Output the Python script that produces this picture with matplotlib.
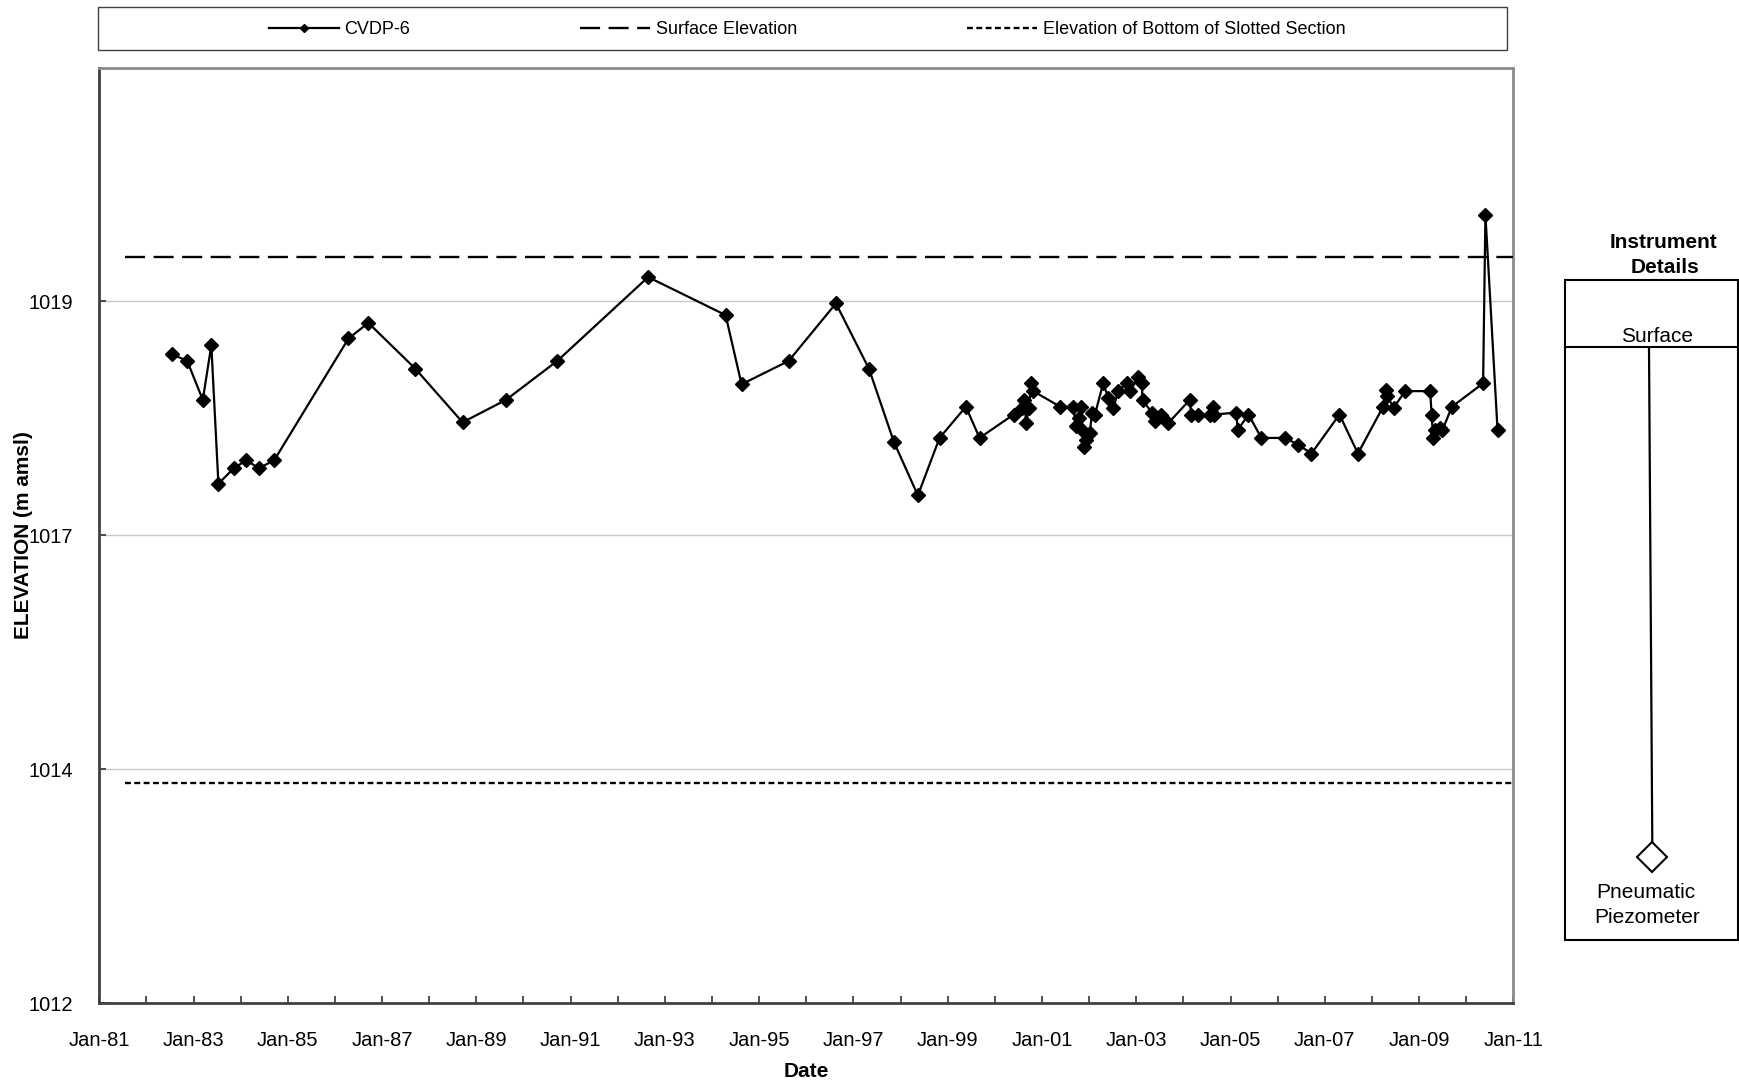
import matplotlib
matplotlib.use("Agg")
import matplotlib.pyplot as plt
import matplotlib.dates as mdates
import pandas as pd
from matplotlib.patches import Rectangle

plt.rcParams['font.family'] = ['Liberation Sans', 'DejaVu Sans']

# ---------------- data ----------------
dates = ['1982-07-16', '1982-11-13', '1983-03-14', '1983-05-19', '1983-07-13', '1983-11-10',
         '1984-02-13', '1984-05-22', '1984-09-17', '1986-04-16', '1986-09-17', '1987-09-16',
         '1988-09-16', '1989-08-18', '1990-09-20', '1992-08-24', '1994-04-16', '1994-08-18',
         '1995-08-18', '1996-08-18', '1997-05-01', '1997-11-10', '1998-05-15', '1998-10-30',
         '1999-05-22', '1999-09-05', '2000-05-26', '2000-08-01', '2000-08-15', '2000-09-01',
         '2000-09-20', '2000-10-10', '2000-10-25', '2001-05-22', '2001-09-01', '2001-09-20',
         '2001-10-15', '2001-11-01', '2001-11-10', '2001-11-25', '2001-12-10', '2002-01-05',
         '2002-01-25', '2002-02-15', '2002-04-20', '2002-05-30', '2002-07-08', '2002-08-15',
         '2002-10-20', '2002-11-15', '2003-01-18', '2003-02-12', '2003-02-20', '2003-05-01',
         '2003-05-25', '2003-07-15', '2003-09-05', '2004-02-20', '2004-03-01', '2004-04-25',
         '2004-07-25', '2004-08-20', '2004-08-28', '2005-02-15', '2005-02-25', '2005-05-20',
         '2005-08-28', '2006-02-28', '2006-06-10', '2006-09-20', '2007-04-25', '2007-09-15',
         '2008-03-28', '2008-04-18', '2008-04-28', '2008-06-18', '2008-09-15', '2009-03-28',
         '2009-04-08', '2009-04-20', '2009-05-05', '2009-06-15', '2009-07-01', '2009-09-12',
         '2010-05-12', '2010-05-30', '2010-09-01']
elevation = [1018.66, 1018.59, 1018.19, 1018.75, 1017.33, 1017.49,
             1017.57, 1017.49, 1017.57, 1018.82, 1018.98, 1018.51,
             1017.96, 1018.19, 1018.59, 1019.45, 1019.06, 1018.35,
             1018.59, 1019.18, 1018.51, 1017.76, 1017.21, 1017.80,
             1018.12, 1017.80, 1018.04, 1018.11, 1018.19, 1017.95,
             1018.11, 1018.36, 1018.28, 1018.12, 1018.12, 1017.92,
             1018.00, 1018.12, 1017.88, 1017.71, 1017.78, 1017.85,
             1018.06, 1018.04, 1018.36, 1018.21, 1018.11, 1018.28,
             1018.36, 1018.28, 1018.43, 1018.36, 1018.19, 1018.06,
             1017.97, 1018.04, 1017.95, 1018.19, 1018.04, 1018.04,
             1018.04, 1018.12, 1018.04, 1018.06, 1017.88, 1018.04,
             1017.80, 1017.80, 1017.73, 1017.64, 1018.04, 1017.64,
             1018.12, 1018.29, 1018.23, 1018.11, 1018.28, 1018.28,
             1018.04, 1017.80, 1017.88, 1017.90, 1017.88, 1018.12,
             1018.36, 1020.09, 1017.88]

ref_dates = ['1981-07-16', '2011-01-01']
surface_elev = [1019.66, 1019.66]
slotted_bottom = [1014.26, 1014.26]

ytick_vals = [1012.0, 1014.4, 1016.8, 1019.2]
ytick_labels = ['1012', '1014', '1017', '1019']
xtick_years = list(range(1981, 2012, 2))
xminor_years = list(range(1981, 2012, 1))
x_start, x_end = '1981-01-01', '2011-01-01'

series_name = 'CVDP-6'
surface_name = 'Surface Elevation'
slotted_name = 'Elevation of Bottom of Slotted Section'

# ---------------- figure ----------------
W, H = 1740, 1081
fig = plt.figure(figsize=(W / 100, H / 100), dpi=100)

L, R, T, B = 99.3, 1513.3, 67.5, 1003.3
ax = fig.add_axes([L / W, 1 - B / H, (R - L) / W, (B - T) / H])

d = pd.to_datetime(dates)
rd = pd.to_datetime(ref_dates)

ln_main, = ax.plot(d, elevation, color='black', lw=1.6, marker='D', markersize=7.0,
                   markerfacecolor='black', markeredgecolor='black', label=series_name, zorder=4)
ln_surf, = ax.plot(rd, surface_elev, color='black', lw=1.7, linestyle=(0, (8.5, 3.6)),
                   label=surface_name, zorder=3)
ln_slot, = ax.plot(rd, slotted_bottom, color='black', lw=1.7, linestyle=(0, (2.5, 1.45)),
                   label=slotted_name, zorder=3)

ax.set_xlim(pd.Timestamp(x_start), pd.Timestamp(x_end))
ax.set_ylim(ytick_vals[0], ytick_vals[0] + 4 * (ytick_vals[1] - ytick_vals[0]))
ax.set_yticks(ytick_vals)
ax.set_yticklabels(ytick_labels)
ax.set_xticks([pd.Timestamp(year=y, month=1, day=1) for y in xtick_years])
ax.set_xticks([pd.Timestamp(year=y, month=1, day=1) for y in xminor_years], minor=True)
ax.xaxis.set_major_formatter(mdates.DateFormatter('%b-%y'))

ax.grid(axis='y', color='#c8c8c8', lw=1.0, zorder=0)
ax.set_axisbelow(True)
ax.tick_params(axis='both', which='both', direction='in', colors='#333333', labelcolor='black',
               labelsize=14.5)
ax.tick_params(axis='y', length=5, width=1.2, pad=19)
ax.tick_params(axis='x', which='major', length=5, width=1.2, pad=20)
ax.tick_params(axis='x', which='minor', length=5, width=1.2)
for s in ['left', 'bottom']:
    ax.spines[s].set_color('#404040')
    ax.spines[s].set_linewidth(2.0)
for s in ['top', 'right']:
    ax.spines[s].set_color('#8c8c8c')
    ax.spines[s].set_linewidth(2.0)

# ---------------- legend ----------------
leg = fig.legend(handles=[ln_main, ln_surf, ln_slot], loc='center',
                 bbox_to_anchor=(807 / W, 1 - 29.5 / H), ncol=3, frameon=False,
                 fontsize=13, handlelength=3.9, handletextpad=0.3, columnspacing=9.4)
leg.legend_handles[0].set_markersize(4.5)

# ---------------- overlay (pixel coordinates) ----------------
ov = fig.add_axes([0, 0, 1, 1], zorder=5)
ov.set_xlim(0, W)
ov.set_ylim(H, 0)
ov.axis('off')
ov.patch.set_alpha(0)

# legend frame
ov.add_patch(Rectangle((97.6, 6.7), 1507.3 - 97.6, 50 - 6.7, fill=False,
                       edgecolor='#404040', lw=1.0))

# axis labels
ov.text(24, 535, 'ELEVATION (m amsl)', rotation=90, ha='center', va='center',
        fontsize=15, fontweight='bold')
ov.text(806, 1062, 'Date', ha='center', va='top', fontsize=15, fontweight='bold')

# instrument details panel
ov.text(1663.5, 243, 'Instrument', ha='center', va='center', fontsize=15, fontweight='bold')
ov.text(1665, 267.5, 'Details', ha='center', va='center', fontsize=15, fontweight='bold')
ov.add_patch(Rectangle((1564.7, 279.6), 1737.8 - 1564.7, 939.9 - 279.6, fill=False,
                       edgecolor='black', lw=1.5))
ov.plot([1564.7, 1737.8], [347.3, 347.3], color='black', lw=1.5)
ov.text(1657, 337, 'Surface', ha='center', va='center', fontsize=15)
ov.plot([1649, 1652.3], [347.3, 843.4], color='black', lw=1.6)
ov.plot([1652.3], [856.7], marker='D', markersize=14.8, markerfacecolor='white',
        markeredgecolor='black', markeredgewidth=1.5)
ov.text(1646, 893, 'Pneumatic', ha='center', va='center', fontsize=15)
ov.text(1647, 917.5, 'Piezometer', ha='center', va='center', fontsize=15)

fig.savefig('out.png', dpi=100)
